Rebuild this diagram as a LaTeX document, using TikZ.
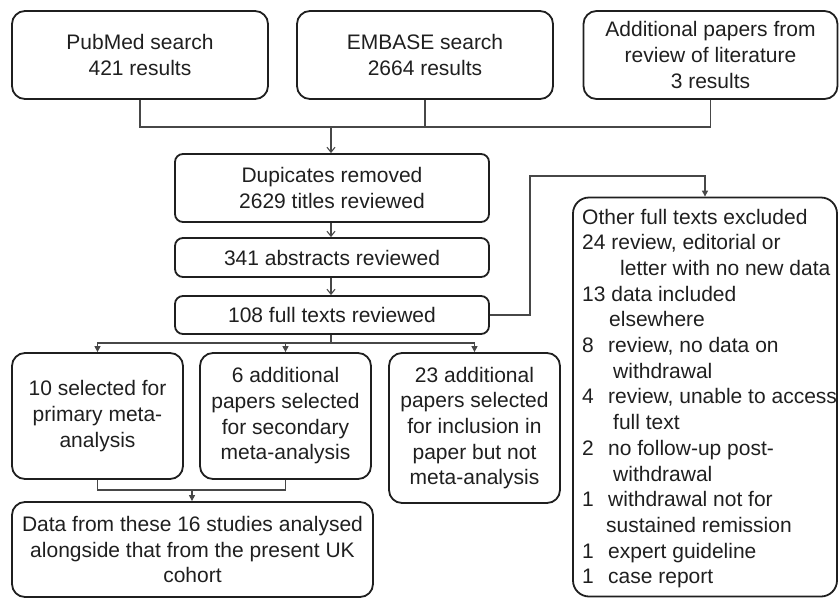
\documentclass[tikz,border=0pt]{standalone}
\usepackage{fontspec}
\setmainfont{Liberation Sans}
\usetikzlibrary{arrows.meta}
\begin{document}
\begin{tikzpicture}[x=1pt,y=-1pt,
  box/.style={draw=black!88,line width=1.8pt,rounded corners=13pt,align=center,inner sep=0pt,
    font=\fontsize{21}{25.7}\selectfont,text=black!88},
  sbox/.style={box,rounded corners=8pt},
  conn/.style={draw=black!72,line width=1.1pt},
  oarr/.style={conn,-{Straight Barb[length=5pt,width=8pt]}},
  farr/.style={conn,-{Triangle[length=6pt,width=6pt]}},
  txt/.style={font=\fontsize{21}{25.7}\selectfont,text=black!88,inner sep=0pt,align=left}]
\useasboundingbox (0,0) rectangle (839,598);
\node[box,minimum width=256pt,minimum height=88pt] (pub) at (140,55) {PubMed search\\421 results};
\node[box,minimum width=256pt,minimum height=88pt] (emb) at (425,55) {EMBASE search\\2664 results};
\node[box,minimum width=254pt,minimum height=88pt] (add) at (710.5,55) {Additional papers from\\review of literature\\3 results};
\node[sbox,minimum width=314pt,minimum height=68pt] (dup) at (332,188) {Dupicates removed\\2629 titles reviewed};
\node[sbox,minimum width=314pt,minimum height=39pt] (abs) at (332,257.5) {341 abstracts reviewed};
\node[sbox,minimum width=314pt,minimum height=38pt] (full) at (332,315) {108 full texts reviewed};
\node[box,minimum width=171pt,minimum height=126pt] (sel) at (97.5,416) {10 selected for\\primary meta-\\analysis};
\node[box,minimum width=171pt,minimum height=126pt] (six) at (285.5,416) {6 additional\\papers selected\\for secondary\\meta-analysis};
\node[box,minimum width=171pt,minimum height=150pt] (tw) at (474.5,428) {23 additional\\papers selected\\for inclusion in\\paper but not\\meta-analysis};
\node[box,minimum width=361pt,minimum height=95pt] (data) at (192.5,549.5) {Data from these 16 studies analysed\\alongside that from the present UK\\cohort};
\node[box,rounded corners=16pt,minimum width=264pt,minimum height=399pt] (oth) at (705,397) {};
\node[txt,anchor=north west] (othtxt) at (582,208.6) {Other full texts excluded\\
24 review, editorial or\\
\hspace*{38pt}letter with no new data\\
13 data included\\
\hspace*{27pt}elsewhere\\
\makebox[26pt][l]{8}review, no data on\\
\hspace*{31pt}withdrawal\\
\makebox[26pt][l]{4}review, unable to access\\
\hspace*{31pt}full text\\
\makebox[26pt][l]{2}no follow-up post-\\
\hspace*{31pt}withdrawal\\
\makebox[26pt][l]{1}withdrawal not for\\
\hspace*{24pt}sustained remission\\
\makebox[26pt][l]{1}expert guideline\\
\makebox[26pt][l]{1}case report};
\coordinate (j1) at (331,127);
\coordinate (c1) at (530,176);
\coordinate (j2) at (331,343);
\coordinate (j3) at (192,490);
\draw[conn] (pub.south) |- (j1) -| (add.south);
\draw[conn] (emb.south) -- (emb.south |- j1);
\draw[oarr] (j1) -- (dup.north -| j1);
\draw[oarr] (dup.south -| j1) -- (abs.north -| j1);
\draw[oarr] (abs.south -| j1) -- (full.north -| j1);
\draw[farr] (full.east) -| (c1) -| (oth.north);
\draw[conn] (full.south -| j2) -- (j2);
\draw[farr] (j2) -| (sel.north);
\draw[farr] (j2) -| (six.north);
\draw[farr] (j2) -| (tw.north);
\draw[conn] (sel.south) |- (j3) -| (six.south);
\draw[farr] (j3) -- (data.north -| j3);
\end{tikzpicture}
\end{document}
